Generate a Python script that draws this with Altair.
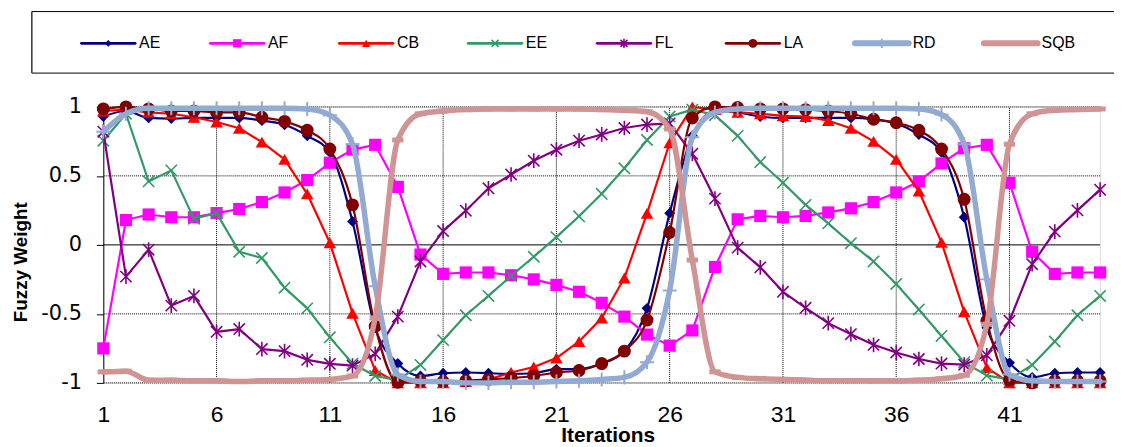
import altair as alt
import pandas as pd

iterations = list(range(1, 46))
series_names = ["AE", "AF", "CB", "EE", "FL", "LA", "RD", "SQB"]

AE = [0.93, 0.97, 0.92, 0.915, 0.92, 0.92, 0.92, 0.90, 0.87, 0.79,
      0.67, 0.17, -0.60, -0.86, -0.95, -0.93, -0.925, -0.93, -0.935, -0.93,
      -0.90, -0.90, -0.86, -0.77, -0.46, 0.23, 0.79, 0.97, 0.96, 0.93,
      0.92, 0.92, 0.92, 0.92, 0.91, 0.88, 0.80, 0.67, 0.20, -0.60,
      -0.855, -0.96, -0.93, -0.925, -0.925]
AF = [-0.75, 0.18, 0.22, 0.20, 0.20, 0.23, 0.26, 0.31, 0.38, 0.47,
      0.595, 0.69, 0.725, 0.42, -0.07, -0.21, -0.20, -0.20, -0.22, -0.25,
      -0.29, -0.34, -0.42, -0.52, -0.65, -0.73, -0.62, -0.16, 0.185, 0.21,
      0.20, 0.21, 0.235, 0.265, 0.31, 0.38, 0.46, 0.59, 0.70, 0.725,
      0.45, -0.05, -0.21, -0.20, -0.20]
CB = [0.97, 0.98, 0.96, 0.95, 0.925, 0.89, 0.845, 0.745, 0.62, 0.37,
      0.015, -0.495, -0.91, -1.0, -1.0, -1.0, -0.99, -0.975, -0.925, -0.885,
      -0.82, -0.70, -0.53, -0.24, 0.228, 0.74, 1.0, 0.98, 0.96, 0.95,
      0.935, 0.93, 0.90, 0.845, 0.75, 0.62, 0.39, 0.018, -0.485, -0.89,
      -1.0, -1.0, -1.0, -1.0, -1.0]
EE = [0.755, 0.95, 0.46, 0.54, 0.19, 0.23, -0.05, -0.095, -0.31, -0.46,
      -0.67, -0.86, -0.95, -0.98, -0.87, -0.69, -0.51, -0.37, -0.225, -0.086,
      0.056, 0.207, 0.37, 0.555, 0.76, 0.93, 0.98, 0.94, 0.79, 0.60,
      0.45, 0.29, 0.156, 0.012, -0.12, -0.283, -0.468, -0.66, -0.85, -0.947,
      -0.975, -0.87, -0.70, -0.51, -0.37]
FL = [0.82, -0.23, -0.035, -0.44, -0.37, -0.63, -0.61, -0.755, -0.77, -0.833,
      -0.862, -0.875, -0.79, -0.52, -0.12, 0.10, 0.248, 0.41, 0.51, 0.61,
      0.69, 0.755, 0.80, 0.847, 0.872, 0.88, 0.66, 0.335, -0.02, -0.163,
      -0.34, -0.456, -0.567, -0.647, -0.724, -0.78, -0.827, -0.86, -0.868, -0.80,
      -0.55, -0.14, 0.096, 0.25, 0.40]
LA = [0.985, 1.0, 0.985, 0.97, 0.97, 0.96, 0.96, 0.925, 0.895, 0.83,
      0.695, 0.29, -0.59, -0.995, -0.985, -0.99, -0.985, -0.975, -0.965, -0.95,
      -0.925, -0.91, -0.86, -0.77, -0.545, 0.09, 0.92, 1.0, 0.995, 0.985,
      0.985, 0.98, 0.97, 0.95, 0.91, 0.885, 0.83, 0.695, 0.33, -0.55,
      -0.98, -1.0, -0.985, -0.985, -0.985]
RD = [0.82, 0.95, 0.99, 0.99, 0.99, 0.99, 0.99, 0.99, 0.99, 0.985,
      0.94, 0.73, -0.30, -0.94, -0.99, -0.99, -1.0, -1.0, -0.995, -0.995,
      -0.99, -0.985, -0.975, -0.96, -0.85, -0.33, 0.78, 0.96, 0.985, 0.99,
      0.99, 0.99, 0.99, 0.99, 0.99, 0.99, 0.985, 0.945, 0.73, -0.25,
      -0.94, -0.985, -0.99, -0.99, -0.99]
SQB = [-0.92, -0.915, -0.98, -0.98, -0.985, -0.985, -0.99, -0.985, -0.985, -0.98,
       -0.975, -0.95, -0.53, 0.76, 0.95, 0.97, 0.98, 0.985, 0.985, 0.985,
       0.985, 0.985, 0.98, 0.975, 0.965, 0.84, -0.11, -0.92, -0.96, -0.97,
       -0.975, -0.98, -0.985, -0.985, -0.985, -0.985, -0.98, -0.97, -0.945, -0.575,
       0.73, 0.95, 0.975, 0.98, 0.985]

x_ticks = [1, 6, 11, 16, 21, 26, 31, 36, 41]
x_grid = [6, 11, 16, 21, 26, 31, 36, 41]
y_ticks = [-1, -0.5, 0, 0.5, 1]
y_grid = [-1, -0.5, 0.5, 1]
y_zero = [0]

values = {"AE": AE, "AF": AF, "CB": CB, "EE": EE, "FL": FL, "LA": LA, "RD": RD, "SQB": SQB}

# styles (not data)
X_PATH = "M-1,-1L1,1M-1,1L1,-1"
STAR_PATH = "M-1,-1L1,1M-1,1L1,-1M0,-1.3L0,1.3"
PLUS_PATH = "M-1,0L1,0M0,-1L0,1"
DASH_PATH = "M-1,0L1,0"
styles = {
    "AE": dict(color="#000080", shape="diamond", filled=True, size=120, msw=1, lw=2.2, interp="monotone", lsize=45),
    "AF": dict(color="#FF00FF", shape="square", filled=True, size=150, msw=1, lw=2.2, interp="linear", lsize=70),
    "CB": dict(color="#FF0000", shape="triangle-up", filled=True, size=160, msw=1, lw=2.2, interp="linear", lsize=70),
    "EE": dict(color="#339966", shape=X_PATH, filled=False, size=130, msw=1.6, lw=2.2, interp="linear", lsize=50),
    "FL": dict(color="#800080", shape=STAR_PATH, filled=False, size=130, msw=1.6, lw=2.2, interp="linear", lsize=50),
    "LA": dict(color="#800000", shape="circle", filled=True, size=170, msw=1, lw=2.2, interp="monotone", lsize=80),
    "RD": dict(color="#93ABD3", shape=PLUS_PATH, filled=False, size=200, msw=2, lw=5.5, interp="monotone", lsize=90),
    "SQB": dict(color="#D09494", shape=DASH_PATH, filled=False, size=130, msw=5, lw=5.5, interp="monotone", lsize=10),
}

rows = []
for name in series_names:
    for it, v in zip(iterations, values[name]):
        rows.append({"it": it, "series": name, "val": v})
df = pd.DataFrame(rows)

FONT = "Liberation Sans"

x_axis = alt.Axis(values=x_ticks, grid=False, ticks=False, domain=False,
                  labelFont=FONT, labelFontSize=23, labelColor="black",
                  labelPadding=39, labelBaseline="alphabetic", labelFlush=False,
                  labelOverlap=False,
                  title="Iterations", titleFont=FONT, titleFontSize=21,
                  titleFontWeight="bold", titleColor="black",
                  titleX=508, titleY=59, titleBaseline="alphabetic", titleAlign="center")
y_axis = alt.Axis(values=y_ticks, grid=False, domain=True, domainColor="black",
                  domainWidth=1, ticks=True, tickSize=7, tickColor="black",
                  labelFont="DejaVu Sans", labelFontSize=21, labelColor="black",
                  labelPadding=15, labelExpr="'' + datum.value",
                  title="Fuzzy Weight", titleFont=FONT, titleFontSize=19,
                  titleFontWeight="bold", titleColor="black",
                  titleX=-83, titleY=156, titleBaseline="middle", titleAlign="center")

xs = alt.Scale(domain=[1, 45], nice=False, zero=False)
ys = alt.Scale(domain=[-1, 1], nice=False, zero=False)
X = alt.X("it:Q", scale=xs, axis=x_axis)
Y = alt.Y("val:Q", scale=ys, axis=y_axis)

hgrid = alt.Chart(pd.DataFrame({"val": y_grid})).mark_rule(
    color="black", strokeWidth=1, strokeDash=[1, 1]).encode(y=Y)
zero_line = alt.Chart(pd.DataFrame({"val": y_zero})).mark_rule(
    color="black", strokeWidth=1).encode(y=Y)
vgrid = alt.Chart(pd.DataFrame({"it": x_grid, "lo": [-1] * len(x_grid), "hi": [1] * len(x_grid)})).mark_rule(
    color="black", strokeWidth=1, strokeDash=[1, 1]).encode(
    x=X, y=alt.Y("lo:Q", scale=ys, axis=y_axis), y2="hi:Q")

layers = [hgrid, vgrid, zero_line]
for name in series_names:
    s = styles[name]
    base = alt.Chart(df).transform_filter(alt.datum.series == name)
    line = base.mark_line(color=s["color"], strokeWidth=s["lw"], interpolate=s["interp"],
                          strokeCap="round", strokeJoin="round").encode(x=X, y=Y)
    pts = base.mark_point(shape=s["shape"], filled=s["filled"], size=s["size"], color=s["color"],
                          opacity=1, strokeWidth=s["msw"]).encode(x=X, y=Y)
    layers += [line, pts]

main = alt.layer(*layers)

# legend
leg_df = pd.DataFrame({"name": series_names, "k": list(range(len(series_names)))})
lx = alt.Scale(domain=[0, 7], range=[-22, 887])
LY = alt.value(-64)
one = pd.DataFrame({"a": [0]})
frame_top = alt.Chart(one).mark_rule(color="black", strokeWidth=1).encode(
    x=alt.value(-72), x2=alt.value(1100), y=alt.value(-96))
frame_bot = alt.Chart(one).mark_rule(color="#333", strokeWidth=1.5).encode(
    x=alt.value(-72), x2=alt.value(1100), y=alt.value(-34))
frame_left = alt.Chart(one).mark_rule(color="#333", strokeWidth=1.5).encode(
    x=alt.value(-72), y=alt.value(-96), y2=alt.value(-34))
leg_layers = [frame_top, frame_bot, frame_left]
for name in series_names:
    s = styles[name]
    b = alt.Chart(leg_df).transform_filter(alt.datum.name == name).transform_calculate(
        k2="datum.k + 0.416", km="datum.k + 0.208")
    ln = b.mark_rule(color=s["color"], strokeWidth=s["lw"] + 0.6, strokeCap="round").encode(
        x=alt.X("k:Q", scale=lx, axis=None), x2="k2:Q", y=LY)
    mk = b.mark_point(shape=s["shape"], filled=s["filled"], size=s["lsize"], color=s["color"],
                      opacity=1, strokeWidth=min(s["msw"], 2)).encode(
        x=alt.X("km:Q", scale=lx, axis=None), y=LY)
    leg_layers += [ln, mk]
txt = alt.Chart(leg_df).transform_calculate(kt="datum.k + 0.447").mark_text(
    align="left", baseline="middle", font=FONT, fontSize=16, color="black").encode(
    x=alt.X("kt:Q", scale=lx, axis=None), y=LY, text="name:N")
leg_layers.append(txt)
legend = alt.layer(*leg_layers)

chart = alt.layer(main, legend).resolve_scale(x="independent").properties(
    width=1004, height=278,
    autosize=alt.AutoSizeParams(type="none"),
    padding={"left": 96, "top": 98, "right": 14, "bottom": 64},
).configure_view(stroke=None).configure(background="white")

chart.save("out.html", embed_options={"renderer": "svg", "actions": False})
